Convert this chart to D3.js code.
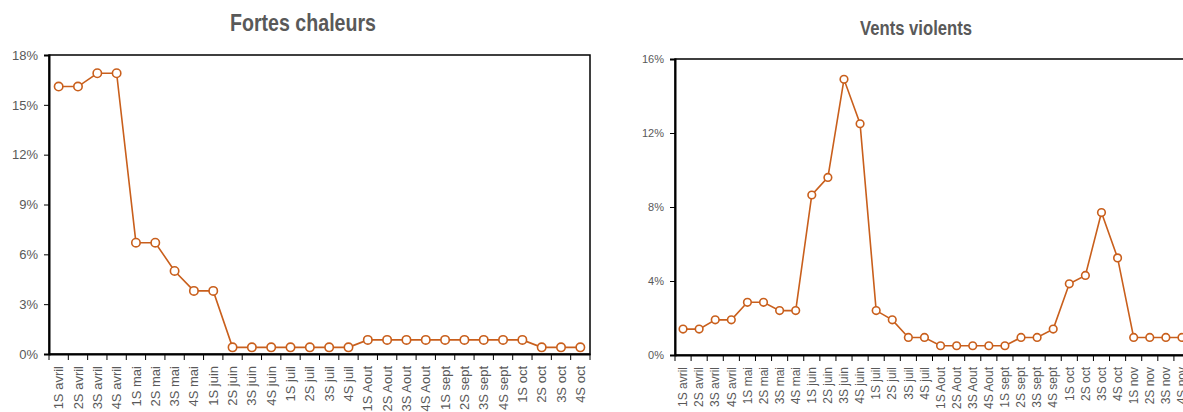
<!DOCTYPE html>
<html>
<head>
<meta charset="utf-8">
<title>Fortes chaleurs / Vents violents</title>
<style type="text/css">
	body { margin: 0; background: #fff; }
	svg { display: block; }
	.title { font-family: "Liberation Sans", Arial, sans-serif; font-weight: bold; fill: #595959; }
	.axis text { fill: #595959; font-family: "Liberation Sans", Arial, sans-serif; }
	.axis path, .axis line { stroke: #000; }
</style>
<script src="https://cdn.jsdelivr.net/npm/d3@7/dist/d3.min.js"></script>
</head>
<body>
<div id="container"></div>
<script type="text/javascript">
// categories (weeks)
var catsChaleur = ['1S avril','2S avril','3S avril','4S avril','1S mai','2S mai','3S mai','4S mai',
	'1S juin','2S juin','3S juin','4S juin','1S juil','2S juil','3S juil','4S juil',
	'1S Aout','2S Aout','3S Aout','4S Aout','1S sept','2S sept','3S sept','4S sept',
	'1S oct','2S oct','3S oct','4S oct'];
var catsVents = catsChaleur.concat(['1S nov','2S nov','3S nov','4S nov']);

// values in %
var valChaleur = [16.1,16.1,16.9,16.9, 6.7,6.7,5.0,3.8, 3.8,0.4,0.4,0.4, 0.4,0.4,0.4,0.4,
	0.85,0.85,0.85,0.85, 0.85,0.85,0.85,0.85, 0.85,0.4,0.4,0.4];
var valVents = [1.4,1.4,1.9,1.9, 2.85,2.85,2.4,2.4, 8.65,9.6,14.9,12.5, 2.4,1.9,0.95,0.95,
	0.5,0.5,0.5,0.5, 0.5,0.95,0.95,1.4, 3.85,4.3,7.7,5.25, 0.95,0.95,0.95,0.95];

var ticksChaleur = [0,3,6,9,12,15,18];
var ticksVents = [0,4,8,12,16];

var color = '#C95F1C';

var svg = d3.select('#container').append('svg')
	.attr('width', 1183)
	.attr('height', 412);

function drawChart(opt) {
	var g = svg.append('g').attr('transform', 'translate(' + opt.left + ',' + opt.top + ')');

	var x = d3.scaleBand().domain(opt.cats).range([0, opt.width]).padding(0);
	var y = d3.scaleLinear().domain([0, opt.max]).range([opt.height, 0]);

	// frame
	g.append('rect')
		.attr('width', opt.width)
		.attr('height', opt.height)
		.attr('fill', 'none')
		.attr('stroke', '#000')
		.attr('stroke-width', 1.5);

	// y axis
	var ya = g.append('g').attr('class', 'axis')
		.call(d3.axisLeft(y).tickValues(opt.ticks).tickFormat(function(d){ return d + '%'; }).tickSize(5).tickPadding(6));
	ya.select('.domain').attr('stroke-width', 2);
	ya.selectAll('text').style('font-size', opt.yFont + 'px');

	// x labels
	var xa = g.append('g').attr('class', 'axis')
		.attr('transform', 'translate(0,' + opt.height + ')')
		.call(d3.axisBottom(x).tickSize(0).tickPadding(0));
	xa.select('.domain').attr('stroke-width', 2);
	xa.selectAll('text')
		.style('font-size', opt.xFont + 'px')
		.attr('text-anchor', 'end')
		.attr('dy', '0.35em')
		.attr('transform', 'translate(0,12) rotate(-90)');

	// boundary ticks
	var bounds = opt.cats.map(function(c){ return x(c); }).concat([opt.width]);
	g.selectAll('.xtick').data(bounds).enter().append('line')
		.attr('x1', function(d){ return d; })
		.attr('x2', function(d){ return d; })
		.attr('y1', opt.height)
		.attr('y2', opt.height + 6)
		.attr('stroke', '#000')
		.attr('stroke-width', 1);

	var cx = function(d, i){ return x(opt.cats[i]) + x.bandwidth() / 2; };

	g.append('path')
		.datum(opt.values)
		.attr('fill', 'none')
		.attr('stroke', color)
		.attr('stroke-width', 1.6)
		.attr('d', d3.line().x(cx).y(function(d){ return y(d); }));

	g.selectAll('.pt').data(opt.values).enter().append('circle')
		.attr('cx', cx)
		.attr('cy', function(d){ return y(d); })
		.attr('r', opt.r)
		.attr('fill', '#fff')
		.attr('stroke', color)
		.attr('stroke-width', 1.6);

	// title squeezed to look like a narrow font
	svg.append('text').attr('class', 'title')
		.attr('x', opt.titleX)
		.attr('y', opt.titleY)
		.attr('text-anchor', 'middle')
		.attr('textLength', opt.titleW)
		.attr('lengthAdjust', 'spacingAndGlyphs')
		.style('font-size', opt.titleFont + 'px')
		.text(opt.title);
}

drawChart({
	title: 'Fortes chaleurs', cats: catsChaleur, values: valChaleur, ticks: ticksChaleur, max: 18,
	left: 49, top: 55, width: 541, height: 299,
	titleX: 303, titleY: 31, titleW: 146, titleFont: 24, xFont: 13, yFont: 13, r: 4.2
});
drawChart({
	title: 'Vents violents', cats: catsVents, values: valVents, ticks: ticksVents, max: 16,
	left: 675, top: 59, width: 515, height: 296,
	titleX: 916, titleY: 35, titleW: 112, titleFont: 21, xFont: 12, yFont: 11, r: 3.8
});
</script>
</body>
</html>
